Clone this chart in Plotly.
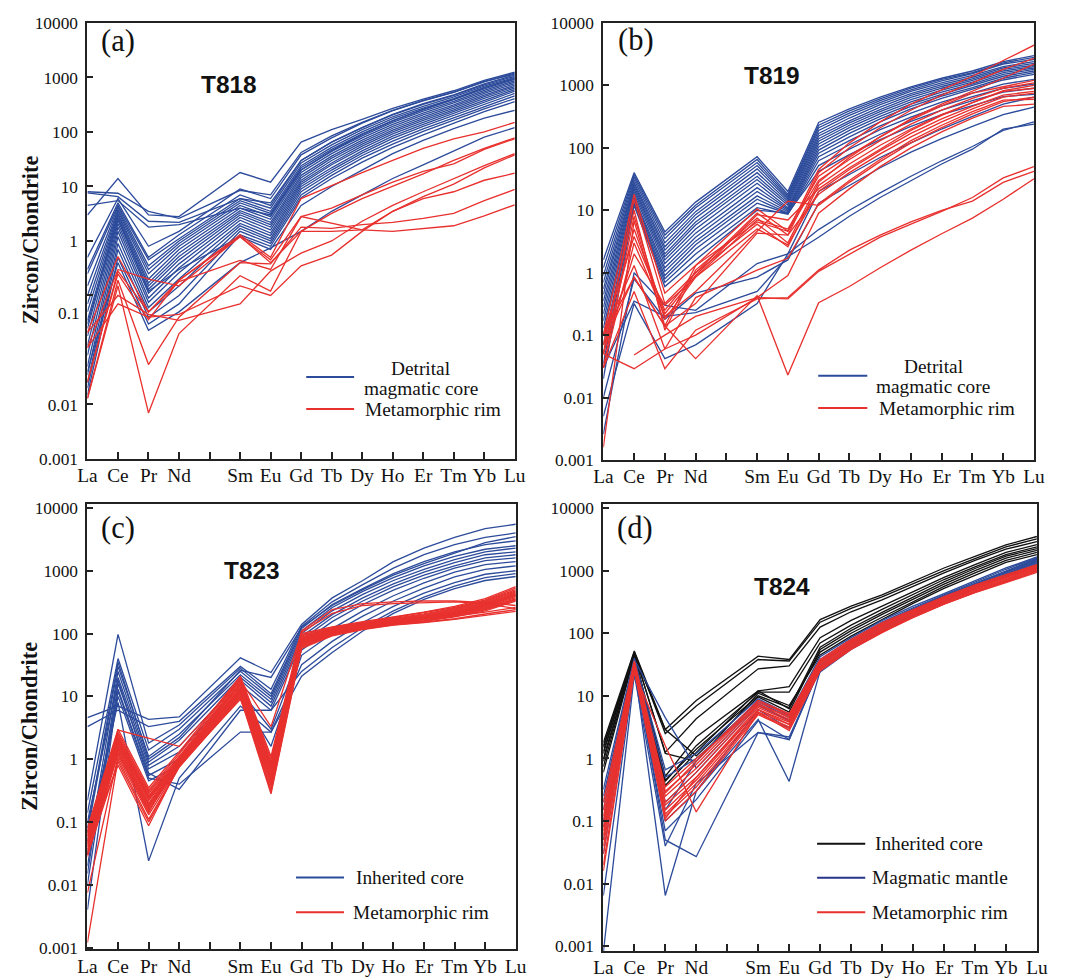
import plotly.graph_objects as go

# ---------------- data ----------------
AXIS_LABELS = ["La", "Ce", "Pr", "Nd", "", "Sm", "Eu", "Gd", "Tb", "Dy", "Ho", "Er", "Tm", "Yb", "Lu"]
ELEMENTS = ["La", "Ce", "Pr", "Nd", "Sm", "Eu", "Gd", "Tb", "Dy", "Ho", "Er", "Tm", "Yb", "Lu"]

# (a) T818
T818_CORE = [
    [3.0, 14, 3.0, 2.8, 18, 12, 65, 110, 170, 270, 400, 570, 880, 1250],
    [8.0, 7.5, 3.5, 2.6, 8.5, 7.0, 42, 85, 150, 250, 380, 540, 850, 1150],
    [7.6, 6.5, 2.3, 2.2, 6.0, 5.0, 30, 65, 120, 210, 330, 480, 760, 1100],
    [4.5, 5.5, 1.8, 2.0, 4.0, 3.0, 20, 45, 90, 160, 260, 400, 650, 950],
    [0.5, 6.0, 0.8, 1.5, 9.0, 6.0, 38, 78, 145, 245, 370, 530, 830, 1200],
    [0.3, 5.0, 0.5, 1.3, 7.0, 4.5, 30, 65, 120, 205, 320, 470, 730, 1050],
    [0.25, 4.5, 0.45, 1.1, 6.0, 4.0, 27, 58, 110, 190, 295, 440, 690, 1000],
    [0.15, 4.2, 0.35, 1.0, 5.5, 3.5, 24, 52, 100, 175, 275, 410, 650, 960],
    [0.1, 3.8, 0.3, 0.9, 5.0, 3.2, 22, 48, 92, 162, 258, 390, 620, 920],
    [0.07, 3.5, 0.25, 0.8, 4.5, 2.8, 20, 44, 85, 150, 240, 365, 580, 870],
    [0.05, 3.2, 0.2, 0.7, 4.0, 2.5, 18, 40, 78, 138, 222, 340, 545, 820],
    [0.035, 3.0, 0.17, 0.6, 3.6, 2.2, 16, 36, 71, 127, 205, 315, 510, 770],
    [0.025, 2.7, 0.15, 0.52, 3.3, 2.0, 14.5, 33, 65, 117, 190, 295, 475, 720],
    [0.018, 2.4, 0.13, 0.45, 3.0, 1.8, 13, 30, 60, 108, 176, 275, 445, 680],
    [0.012, 2.1, 0.11, 0.38, 2.7, 1.6, 12, 27, 55, 100, 163, 255, 415, 640],
    [0.008, 1.8, 0.09, 0.32, 2.4, 1.4, 11, 25, 50, 92, 150, 237, 385, 600],
    [0.005, 1.5, 0.075, 0.26, 2.1, 1.25, 10, 22, 45, 84, 138, 220, 355, 560],
    [0.0035, 1.2, 0.06, 0.2, 1.9, 1.1, 9, 20, 41, 76, 126, 200, 325, 510],
    [0.0025, 0.9, 0.05, 0.15, 1.7, 1.0, 8, 18, 37, 68, 114, 182, 295, 460],
    [0.002, 0.7, 0.04, 0.1, 1.5, 0.9, 7, 16, 33, 60, 102, 165, 265, 410],
    [0.0015, 0.5, 0.03, 0.07, 1.3, 0.8, 6.2, 14, 28, 52, 88, 145, 235, 360],
    [0.004, 0.4, 0.023, 0.05, 0.4, 0.75, 1.5, 3.5, 7, 14, 25, 45, 80, 120],
    [0.03, 2.6, 0.12, 0.3, 1.2, 0.7, 4.5, 10, 20, 40, 70, 115, 180, 250],
]
T818_RIM = [
    [0.021, 0.52, 0.05, 0.19, 1.3, 0.5, 6.0, 10.5, 18, 30, 50, 75, 100, 150],
    [0.011, 0.3, 0.2, 0.15, 1.2, 0.45, 2.8, 4.0, 7.0, 12, 19, 26, 48, 75],
    [0.0026, 0.28, 0.05, 0.18, 0.44, 0.3, 2.8, 2.1, 1.6, 1.5, 1.7, 1.9, 2.9, 4.6],
    [0.0013, 0.19, 0.0054, 0.04, 0.4, 0.38, 1.8, 1.7, 2.0, 2.2, 2.6, 3.2, 5.5, 8.8],
    [0.0013, 0.15, 0.0007, 0.02, 0.23, 0.12, 1.5, 1.5, 1.6, 3.5, 6.0, 8.0, 13, 17.5],
    [0.021, 0.1, 0.045, 0.035, 0.07, 0.28, 0.6, 1.0, 2.3, 4.5, 8.0, 14, 24, 40],
    [0.011, 0.07, 0.04, 0.045, 0.15, 0.1, 0.35, 0.55, 1.5, 3.5, 6.5, 11, 22, 38],
    [0.0026, 0.25, 0.036, 0.19, 1.2, 0.4, 1.5, 3.2, 6.0, 10, 17, 30, 50, 78],
]

# (b) T819
T819_CORE = [
    [1.6, 40, 4.5, 13.5, 72, 20, 255, 420, 650, 950, 1300, 1700, 2400, 3000],
    [1.2, 37, 4.0, 12, 65, 18, 230, 390, 610, 900, 1250, 1600, 2300, 2800],
    [0.9, 34, 3.5, 11, 58, 17, 210, 360, 570, 850, 1180, 1550, 2200, 2600],
    [0.7, 31, 3.0, 9.5, 52, 16, 190, 330, 530, 800, 1100, 1450, 2000, 2400],
    [0.55, 28, 2.6, 8.5, 46, 15, 170, 300, 490, 740, 1030, 1350, 1900, 2250],
    [0.45, 26, 2.3, 7.5, 40, 14, 155, 270, 450, 690, 960, 1270, 1800, 2100],
    [0.35, 24, 2.0, 6.5, 35, 13, 140, 250, 410, 640, 900, 1200, 1700, 2000],
    [0.28, 22, 1.8, 5.8, 31, 12, 128, 230, 380, 590, 840, 1130, 1600, 1900],
    [0.22, 20, 1.6, 5.0, 27, 11, 115, 210, 350, 545, 780, 1060, 1500, 1800],
    [0.17, 18, 1.4, 4.3, 23, 10.5, 103, 190, 320, 500, 720, 990, 1400, 1700],
    [0.13, 16, 1.2, 3.7, 20, 10, 92, 170, 290, 460, 670, 920, 1300, 1600],
    [0.1, 15, 1.05, 3.2, 17, 9.5, 82, 150, 260, 420, 620, 860, 1220, 1500],
    [0.07, 14, 0.9, 2.8, 15, 9, 72, 130, 225, 360, 540, 760, 1050, 1250],
    [0.05, 13, 0.8, 2.4, 13, 8.8, 62, 112, 195, 310, 470, 660, 900, 1050],
    [0.035, 12.5, 0.7, 2.0, 11, 8.6, 52, 95, 165, 265, 400, 570, 780, 900],
    [0.02, 12, 0.6, 1.6, 10, 9, 42, 78, 135, 220, 340, 480, 660, 720],
    [0.0026, 1.0, 0.3, 0.25, 1.4, 2.0, 20, 38, 70, 120, 200, 320, 500, 650],
    [0.01, 0.8, 0.18, 0.47, 0.85, 1.6, 13, 25, 48, 85, 140, 220, 340, 450],
    [0.005, 0.32, 0.042, 0.07, 0.32, 2.0, 4.9, 10, 19, 35, 62, 105, 190, 260],
    [0.03, 0.35, 0.2, 0.23, 0.5, 1.8, 3.7, 8, 16, 30, 55, 95, 200, 240],
]
T819_RIM = [
    [0.1, 18, 0.47, 1.3, 10.5, 4.6, 45, 120, 260, 500, 850, 1400, 2500, 4400],
    [0.05, 15, 0.32, 1.0, 9, 4.0, 40, 100, 210, 400, 700, 1100, 1800, 2700],
    [0.03, 8, 0.18, 0.85, 7, 5, 35, 75, 150, 280, 470, 750, 950, 1200],
    [0.0016, 6.8, 0.14, 1.3, 6.5, 4.6, 30, 65, 130, 240, 400, 620, 900, 1100],
    [0.1, 3.8, 0.25, 1.0, 6.0, 2.6, 25, 55, 110, 200, 340, 530, 800, 900],
    [0.05, 2.0, 0.3, 0.85, 5, 2.8, 20, 45, 90, 170, 290, 460, 700, 800],
    [0.03, 3.0, 0.2, 0.5, 4.6, 14, 12, 28, 60, 120, 210, 350, 550, 650],
    [0.07, 0.85, 0.14, 0.32, 4.3, 4.0, 18, 40, 80, 150, 260, 420, 650, 750],
    [0.1, 1.3, 0.06, 0.4, 1.1, 1.7, 12.6, 30, 65, 130, 230, 380, 580, 600],
    [None, 0.048, 0.1, 0.2, 0.4, 0.9, 9, 22, 50, 100, 180, 300, 460, 500],
    [0.05, 0.029, 0.06, 0.1, 0.4, 0.38, 1.05, 2.0, 3.7, 6.0, 9.6, 16, 33, 50],
    [0.03, 0.5, 0.029, 0.12, 0.38, 0.4, 1.1, 2.3, 4.0, 6.5, 10, 14, 28, 42],
    [0.1, 0.85, 0.14, 0.042, 0.43, 0.023, 0.33, 0.6, 1.2, 2.3, 4.2, 7.5, 15, 32],
    [0.05, 5, 0.22, 0.9, 8.5, 7, 22, 48, 95, 190, 330, 530, 820, 1000],
    [0.07, 10, 0.12, 1.1, 7.5, 3, 28, 70, 150, 290, 500, 800, 1300, 2200],
]

# (c) T823
T823_CORE = [
    [4.6, 7, 4.3, 4.7, 41, 24, 140, 370, 700, 1400, 2300, 3400, 4700, 5500],
    [3.3, 6, 3.3, 4.0, 30, 13, 130, 320, 600, 1100, 1800, 2600, 3400, 4000],
    [0.22, 97, 1.8, 3.5, 28, 11, 120, 290, 520, 900, 1400, 2000, 2600, 3000],
    [0.14, 40, 1.4, 3.0, 25, 10, 110, 260, 470, 780, 1200, 1700, 2200, 2500],
    [0.067, 30, 1.1, 2.5, 22, 9, 100, 230, 420, 700, 1050, 1500, 2000, 2300],
    [0.03, 25, 0.9, 2.0, 20, 8, 90, 200, 370, 620, 950, 1350, 1800, 2000],
    [0.015, 20, 0.8, 1.6, 18, 7, 80, 180, 330, 560, 850, 1200, 1600, 1800],
    [0.01, 16, 0.7, 1.3, 15, 6, 70, 155, 290, 490, 760, 1100, 1450, 1600],
    [0.004, 13, 0.55, 1.0, 12, 3, 55, 120, 230, 400, 640, 950, 1250, 1400],
    [0.02, 10, 0.45, 0.8, 10, 1.6, 45, 100, 190, 330, 530, 800, 1050, 1200],
    [0.05, 8, 0.024, 0.5, 7, 2.7, 32, 75, 150, 270, 440, 650, 880, 1000],
    [0.1, 18, 0.6, 0.33, 6, 6, 25, 60, 125, 230, 380, 570, 780, 900],
    [0.03, 12, 0.5, 0.4, 2.7, 2.7, 21, 50, 110, 210, 350, 520, 700, 810],
    [0.08, 35, 1.0, 2.2, 26, 20, 125, 280, 500, 850, 1300, 1900, 2800, 3500],
]
T823_RIM = [
    [0.08, 3.0, 0.35, 1.3, 21, 1.1, 110, 240, 300, 320, 330, 330, 310, 280],
    [0.07, 2.9, None, 1.6, 18, 3.3, 105, 210, 280, 300, 310, 320, 300, 250],
    [0.07, 2.7, 0.32, 1.2, 20, 1.0, 100, 128, 155, 185, 220, 270, 360, 560],
    [0.065, 2.5, 0.3, 1.1, 19, 0.9, 95, 125, 150, 180, 212, 260, 345, 530],
    [0.06, 2.3, 0.28, 1.05, 18, 0.85, 92, 122, 148, 176, 206, 252, 335, 500],
    [0.055, 2.2, 0.26, 1.0, 17, 0.8, 88, 120, 145, 172, 200, 245, 325, 480],
    [0.05, 2.1, 0.25, 1.0, 16, 0.75, 85, 118, 142, 168, 195, 238, 315, 460],
    [0.048, 2.0, 0.24, 0.95, 15.5, 0.7, 82, 116, 140, 165, 190, 232, 305, 445],
    [0.045, 1.9, 0.23, 0.95, 15, 0.65, 80, 114, 138, 162, 186, 226, 298, 430],
    [0.042, 1.8, 0.22, 0.9, 14, 0.6, 78, 112, 136, 159, 182, 220, 290, 420],
    [0.04, 1.7, 0.2, 0.9, 13.5, 0.55, 76, 110, 134, 156, 179, 215, 282, 410],
    [0.037, 1.6, 0.19, 0.88, 13, 0.5, 74, 108, 132, 153, 176, 210, 275, 400],
    [0.035, 1.5, 0.18, 0.85, 12.5, 0.47, 72, 106, 130, 150, 172, 205, 268, 390],
    [0.032, 1.4, 0.17, 0.82, 12, 0.44, 70, 104, 128, 148, 169, 200, 260, 375],
    [0.03, 1.3, 0.16, 0.8, 11.5, 0.4, 68, 102, 126, 146, 166, 196, 252, 360],
    [0.028, 1.2, 0.15, 0.8, 11, 0.37, 66, 100, 124, 144, 163, 192, 245, 350],
    [0.0074, 1.1, 0.13, 0.78, 10.5, 0.33, 64, 98, 122, 142, 160, 188, 238, 340],
    [0.0012, 1.0, 0.11, 0.75, 10, 0.3, 62, 96, 120, 140, 157, 184, 230, 330],
    [0.03, 0.9, 0.1, 0.75, 9.5, 0.28, 60, 94, 118, 138, 152, 172, 205, 240],
    [0.045, 0.8, 0.087, 0.8, 9, 0.5, 58, 92, 116, 136, 150, 168, 195, 225],
    [0.06, 1.25, 0.14, 1.1, 13, 0.7, 75, 108, 135, 158, 172, 190, 220, 260],
]

# (d) T824
T824_INHERITED = [
    [1.8, 52, 2.9, 8.4, 43, 38, 165, 270, 410, 670, 1100, 1680, 2580, 3500],
    [1.5, 50, 2.5, 6.9, 38, 36, 150, 250, 380, 620, 1000, 1550, 2400, 3200],
    [1.2, 48, 1.25, 4.3, 27, 30, 125, 220, 340, 560, 920, 1450, 2200, 2900],
    [1.0, 46, 0.52, 2.2, 12, 14, 85, 160, 270, 460, 780, 1250, 1950, 2600],
    [0.74, 44, 0.43, 1.6, 11.5, 11.5, 70, 135, 240, 420, 720, 1150, 1800, 2400],
    [1.6, 47, 0.37, 1.25, 12, 6.2, 60, 120, 215, 380, 660, 1080, 1700, 2250],
    [0.9, 45, 2.9, 1.1, 9.6, 5.5, 55, 110, 200, 350, 610, 1000, 1580, 2100],
    [0.6, 43, 0.45, 1.4, 10, 6.5, 50, 100, 180, 320, 560, 920, 1450, 1950],
    [1.3, 49, 1.2, 0.9, 11, 7, 45, 90, 165, 300, 520, 850, 1350, 1800],
]
T824_MANTLE = [
    [0.32, 40, 0.66, 1.2, 9, 5, 42, 85, 160, 270, 430, 680, 1100, 1650],
    [0.2, 35, 0.5, 1.0, 8, 4.5, 38, 80, 150, 255, 410, 650, 1050, 1600],
    [0.1, 30, 0.2, 0.6, 7, 4, 35, 75, 142, 245, 395, 625, 1000, 1550],
    [0.03, 28, 0.1, 0.3, 6, 3, 32, 70, 135, 235, 380, 600, 960, 1500],
    [0.0065, 25, 0.07, 0.22, 4, 2, 30, 66, 128, 225, 365, 580, 930, 1450],
    [0.0008, 22, 0.04, 0.4, 2.6, 2.2, 27, 62, 122, 215, 350, 560, 900, 1400],
    [0.05, 30, 0.0065, 0.3, 4.2, 0.43, 25, 58, 115, 205, 335, 540, 870, 1350],
    [0.15, 38, 4.5, 0.7, 7.5, 4, 24, 55, 105, 190, 315, 510, 820, 1250],
    [0.08, 32, 0.05, 0.027, 2.6, 2.0, 28, 60, 110, 195, 320, 520, 840, 1300],
    [0.25, 36, 0.15, 0.9, 8.5, 4.8, 36, 72, 138, 240, 390, 615, 985, 1520],
]
T824_RIM = [
    [0.15, 35, 0.3, 0.8, 8, 5, 38, 80, 148, 240, 385, 590, 860, 1250],
    [0.12, 33, 0.25, 0.7, 7.5, 4.5, 36, 76, 140, 230, 370, 565, 830, 1200],
    [0.1, 32, 0.2, 0.6, 7, 4.2, 34, 72, 134, 220, 355, 545, 800, 1160],
    [0.08, 30, 0.18, 0.5, 6.5, 4, 32, 68, 128, 212, 340, 525, 770, 1120],
    [0.06, 30, 0.15, 0.45, 6, 3.8, 30, 65, 122, 204, 328, 505, 745, 1090],
    [0.05, 28, 0.13, 0.4, 5.5, 3.5, 29, 62, 117, 197, 316, 490, 720, 1060],
    [0.04, 27, 0.12, 0.35, 5.2, 3.2, 28, 60, 112, 190, 305, 475, 700, 1030],
    [0.03, 26, 0.1, 0.3, 5, 3, 27, 58, 108, 184, 296, 460, 680, 1000],
    [0.02, 25, 0.11, 0.5, 6, 3.5, 26, 56, 104, 178, 290, 450, 660, 970],
    [0.016, 24, 1.6, 0.14, 5.5, 2.8, 25, 55, 102, 180, 292, 445, 645, 940],
    [0.2, 36, 0.35, 1.0, 7, 4.8, 35, 74, 138, 226, 362, 555, 815, 1180],
    [0.07, 31, 0.28, 0.9, 8.5, 5.2, 33, 70, 130, 216, 348, 535, 785, 1140],
]

Y_TICKS = [1e4, 1e3, 1e2, 1e1, 1, 1e-1, 1e-2, 1e-3]
Y_TICKTEXT = ["10000", "1000", "100", "10", "1", "0.1", "0.01", "0.001"]
# panel (a) is printed with its lower labels shifted
YA_TICKS = [1e4, 1e3, 1e2, 1e1, 1, 1e-1, 1e-3, 1e-4]
YA_TICKTEXT = ["10000", "1000", "100", "10", "1", "", "0.01", "0.001"]

# ---------------- style ----------------
BLUE = "#2D4B9B"
RED = "#E8312E"
BLACK = "#111111"
LEG_BLUE = "#28338A"
SERIF = "Liberation Serif"
SANS = "Liberation Sans"
X_POS = [AXIS_LABELS.index(e) for e in ELEMENTS]

# mapping of target picture pixels -> figure pixels (page body margin and capture scale)
OFF, SC, CAP = 8, 0.982, 8.6
K = 1 / SC
W, H = 1075, 990
TOP = 22.4  # highest frame top that still leaves room for the "10000" label


def fpx(r):
    return (r - CAP) / SC - OFF


def fx(r):
    return min(1.0, max(0.0, fpx(r) / W))


def fy(r):
    return min(1.0, max(0.0, 1 - fpx(r) / H))


def dom_y(r, top, bottom):
    """target pixel row -> fraction of a panel's height"""
    return (bottom - r) / (bottom - top)


panels = [
    dict(ax="", xd=[86, 514], yd=[TOP, 459], yr=[-4, 4], yt=(YA_TICKS, YA_TICKTEXT),
         groups=[(T818_CORE, BLUE), (T818_RIM, RED)], tag="(a)", title="T818",
         tag_pos=(0.026, 40.5), title_pos=(0.332, 84),
         legend=[(BLUE, 0.512, 0.624, 377), (RED, 0.512, 0.624, 409)],
         texts=[("Detrital", 0.78, 368, "center"), ("magmatic core", 0.78, 388, "center"),
                ("Metamorphic rim", 0.645, 409, "left")]),
    dict(ax="2", xd=[602.7, 1034], yd=[TOP, 460], yr=[-3, 4.0], yt=(Y_TICKS, Y_TICKTEXT),
         groups=[(T819_CORE, BLUE), (T819_RIM, RED)], tag="(b)", title="T819",
         tag_pos=(0.029, 39), title_pos=(0.392, 75),
         legend=[(BLUE, 0.499, 0.613, 375.7), (RED, 0.499, 0.613, 408)],
         texts=[("Detrital", 0.766, 366.7, "center"), ("magmatic core", 0.766, 386.7, "center"),
                ("Metamorphic rim", 0.635, 408, "left")]),
    dict(ax="3", xd=[86, 515], yd=[504, 950], yr=[-3.03, 4.064], yt=(Y_TICKS, Y_TICKTEXT),
         groups=[(T823_CORE, BLUE), (T823_RIM, RED)], tag="(c)", title="T823",
         tag_pos=(0.026, 528), title_pos=(0.384, 570.7),
         legend=[(BLUE, 0.487, 0.599, 878), (RED, 0.487, 0.599, 912.7)],
         texts=[("Inherited core", 0.622, 878, "left"), ("Metamorphic rim", 0.615, 912.7, "left")]),
    dict(ax="4", xd=[602.7, 1037], yd=[504, 951.7], yr=[-3.076, 4.064], yt=(Y_TICKS, Y_TICKTEXT),
         groups=[(T824_INHERITED, BLACK), (T824_MANTLE, BLUE), (T824_RIM, RED)], tag="(d)", title="T824",
         tag_pos=(0.028, 528.3), title_pos=(0.412, 586.7),
         legend=[(BLACK, 0.493, 0.604, 844.3), (LEG_BLUE, 0.493, 0.604, 878.3), (RED, 0.493, 0.604, 912.7)],
         texts=[("Inherited core", 0.622, 844.3, "left"), ("Magmatic mantle", 0.615, 878.3, "left"),
                ("Metamorphic rim", 0.615, 912.7, "left")]),
]

fig = go.Figure()
annotations = []
shapes = []
layout = {}

for p in panels:
    ax = p["ax"]
    xref, yref = "x" + ax, "y" + ax
    top, bot = p["yd"]
    for lines, color in p["groups"]:
        for vals in lines:
            fig.add_trace(go.Scatter(
                x=X_POS, y=vals, mode="lines", xaxis=xref, yaxis=yref,
                line=dict(color=color, width=1.3 * K), connectgaps=True,
                showlegend=False, hoverinfo="skip"))
    layout["xaxis" + ax] = dict(
        domain=[fx(p["xd"][0]), fx(p["xd"][1])], anchor=yref, range=[0, 14],
        tickmode="array", tickvals=list(range(len(AXIS_LABELS))), ticktext=AXIS_LABELS,
        ticks="inside", ticklen=7, tickwidth=1.5, tickcolor="#222",
        showline=True, linecolor="#222", linewidth=2, mirror=True,
        showgrid=False, zeroline=False, ticklabelstandoff=-2,
        tickfont=dict(family=SERIF, size=19 * K, color="#111"))
    layout["yaxis" + ax] = dict(
        domain=[fy(bot), fy(top)], anchor=xref, type="log", range=p["yr"],
        tickmode="array", tickvals=p["yt"][0], ticktext=p["yt"][1],
        ticks="inside", ticklen=6, tickwidth=1.5, tickcolor="#222",
        showline=True, linecolor="#222", linewidth=2, mirror=True,
        showgrid=False, zeroline=False, ticklabelstandoff=4,
        tickfont=dict(family=SERIF, size=17 * K, color="#111"))
    dx, dy = xref + " domain", yref + " domain"
    annotations.append(dict(text=p["tag"], x=p["tag_pos"][0], y=dom_y(p["tag_pos"][1], top, bot),
                            xref=dx, yref=dy, xanchor="left", yanchor="middle", showarrow=False,
                            font=dict(family=SERIF, size=30 * K, color="#111")))
    annotations.append(dict(text="<b>" + p["title"] + "</b>", x=p["title_pos"][0],
                            y=dom_y(p["title_pos"][1], top, bot),
                            xref=dx, yref=dy, xanchor="center", yanchor="middle", showarrow=False,
                            font=dict(family=SANS, size=24 * K, color="#111")))
    for c, x0, x1, yy in p["legend"]:
        yv = dom_y(yy, top, bot)
        shapes.append(dict(type="line", xref=dx, yref=dy, x0=x0, x1=x1, y0=yv, y1=yv,
                           line=dict(color=c, width=2)))
    for t, tx, ty, anc in p["texts"]:
        annotations.append(dict(text=t, x=tx, y=dom_y(ty, top, bot), xref=dx, yref=dy, xanchor=anc,
                                yanchor="middle", showarrow=False,
                                font=dict(family=SERIF, size=19 * K, color="#111")))

# shifted "0.1" label of panel (a)
annotations.append(dict(text="0.1", x=0, y=dom_y(313, TOP, 459), xref="x domain", yref="y domain",
                        xanchor="right", yanchor="middle", xshift=-5, showarrow=False,
                        font=dict(family=SERIF, size=17 * K, color="#111")))
# y-axis titles
for yc in [240, 727]:
    annotations.append(dict(text="<b>Zircon/Chondrite</b>", x=fx(28.5), y=fy(yc), xref="paper", yref="paper",
                            textangle=-90, xanchor="center", yanchor="middle", showarrow=False,
                            font=dict(family=SERIF, size=22 * K, color="#111")))

fig.update_layout(
    width=W, height=H, margin=dict(l=0, r=0, t=0, b=0),
    paper_bgcolor="white", plot_bgcolor="white",
    annotations=annotations, shapes=shapes, showlegend=False, **layout)

fig.write_html("out.html")
